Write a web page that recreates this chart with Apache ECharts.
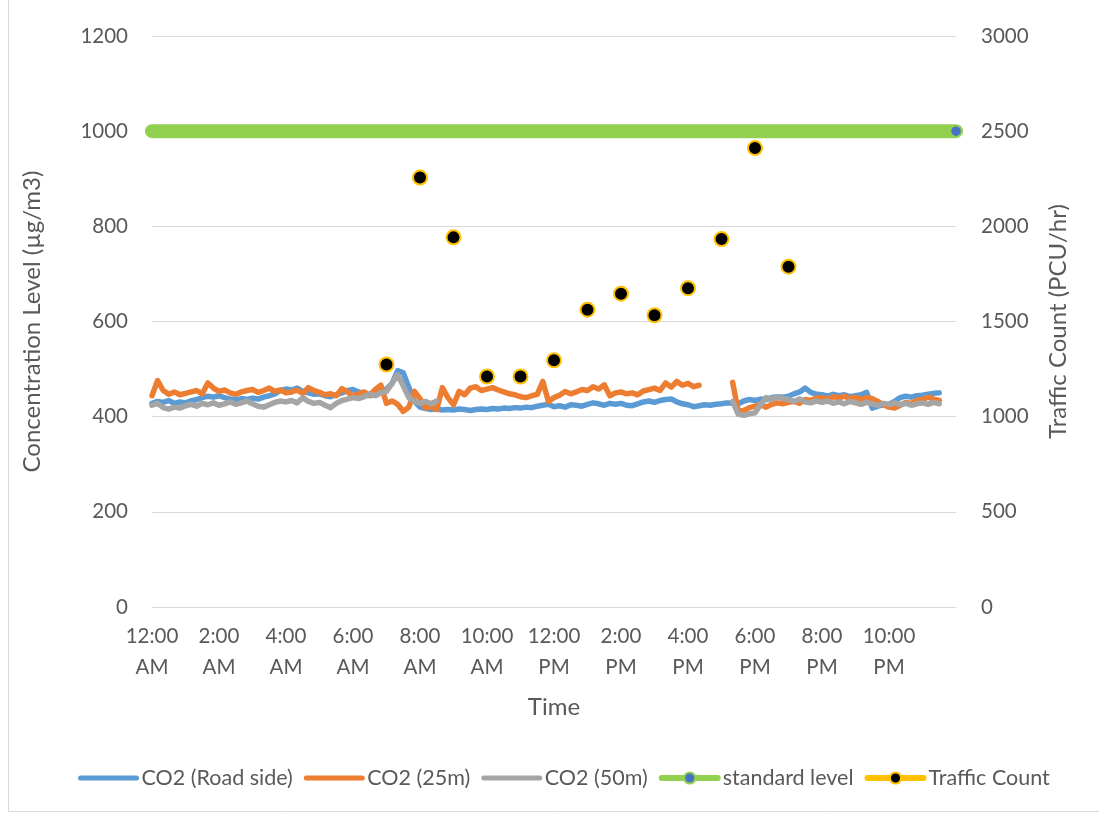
<!DOCTYPE html>
<html>
<head>
<meta charset="utf-8">
<script src="https://cdn.jsdelivr.net/npm/echarts@6/dist/echarts.min.js"></script>
<style>
  html, body { margin: 0; padding: 0; background: #ffffff; }
  #chart { width: 1099px; height: 814px; }
</style>
</head>
<body>
<div id="chart"></div>
<script>
// Readings are logged every 10 minutes starting at midnight (one row per hour below);
// null = logger offline.
const SLOT_HOURS = 1 / 6;

// CO2 at the road side (µg/m3)
const co2RoadSide = [
  428, 432, 430, 434, 428, 431,
  429, 433, 436, 440, 443, 441,
  444, 440, 437, 435, 438, 436,
  439, 437, 441, 444, 448, 455,
  458, 456, 460, 453, 450, 447,
  448, 444, 442, 446, 450, 455,
  457, 452, 448, 444, 447, 452,
  458, 470, 497, 492, 462, 432,
  420, 417, 415, 416, 414, 415,
  414, 416, 415, 413, 415, 416,
  415, 417, 416, 418, 417, 419,
  418, 420, 419, 422, 424, 426,
  421, 423, 420, 425, 424, 422,
  426, 429, 427, 424, 428, 426,
  428, 424, 423, 427, 431, 433,
  430, 434, 436, 437, 431, 427,
  425, 421, 423, 425, 424, 426,
  427, 429, 428, 427, 433, 436,
  434, 437, 436, 440, 442, 441,
  443, 448, 452, 460, 451, 447,
  446, 443, 447, 444, 446, 442,
  444, 446, 451, 418, 422, 425,
  426, 432, 440, 443, 441, 444,
  445, 447, 449, 450
];

// CO2 25 m from the road (µg/m3)
const co2At25m = [
  444, 476, 455, 447, 452, 446,
  449, 452, 455, 448, 471, 460,
  453, 456, 450, 447, 452, 455,
  457, 451, 455, 460, 453, 456,
  450, 452, 456, 449, 461, 455,
  451, 446, 448, 444, 459, 452,
  443, 448, 452, 445, 457, 466,
  428, 433, 426, 411, 420, 453,
  438, 418, 421, 415, 461, 440,
  425, 453, 446, 460, 463, 455,
  458, 461, 456, 452, 448, 446,
  442, 440, 444, 447, 474, 432,
  440, 445, 453, 448, 452, 457,
  455, 463, 458, 467, 444, 450,
  452, 448, 450, 446, 454, 457,
  460, 455, 471, 462, 474, 466,
  470, 463, 466, null, null, null,
  null, null, 472, 411, 413, 419,
  422, 425, 420, 426, 429, 427,
  430, 432, 428, 436, 434, 439,
  440, 436, 442, 439, 443, 438,
  441, 436, 440, 438, 432, 425,
  420, 418, 424, 430, 428, 434,
  436, 441, 437, 434
];

// CO2 50 m from the road (µg/m3)
const co2At50m = [
  424, 428, 419, 416, 420, 418,
  423, 426, 422, 428, 425, 429,
  424, 427, 431, 426, 429, 433,
  427, 422, 420, 425, 430, 433,
  431, 434, 429, 440, 432, 428,
  430, 424, 419, 428, 434, 437,
  440, 438, 442, 448, 444, 450,
  453, 470, 488, 465, 440, 432,
  428, 432, 427, 433, null, null,
  null, null, null, null, null, null,
  null, null, null, null, null, null,
  null, null, null, null, null, null,
  null, null, null, null, null, null,
  null, null, null, null, null, null,
  null, null, null, null, null, null,
  null, null, null, null, null, null,
  null, null, null, null, null, null,
  null, null, 432, 405, 403, 406,
  408, 425, 440, 436, 442, 438,
  436, 432, 437, 431, 429, 433,
  430, 433, 428, 431, 427, 432,
  429, 426, 430, 427, 424, 428,
  426, 429, 425, 428, 424, 427,
  429, 426, 430, 427
];

// Limit line (µg/m3), drawn across the whole day
const standardLevel = 1000;
const dayStartHour = 0;
const dayEndHour = 24;

// Hourly traffic counts (PCU/hr)
const trafficHours = [7, 8, 9, 10, 11, 12, 13, 14, 15, 16, 17, 18, 19];
const trafficCount = [1274, 2256, 1942, 1211, 1211, 1296, 1562, 1646, 1533, 1675, 1933, 2411, 1788];

const seriesNames = ['CO2 (Road side)', 'CO2 (25m)', 'CO2 (50m)', 'standard level', 'Traffic Count'];

const C_BLUE = '#5B9BD5', C_ORANGE = '#ED7D31', C_GRAY = '#A5A5A5';
const C_GREEN = '#92D050', C_MARK = '#4472C4', C_GOLD = '#FFC000';
const TXT = '#595959', GRID = '#D9D9D9';
const FONT = 'Lato, "Open Sans", sans-serif';
const FS_TICK = 20.5, FS_LEGEND = 21.5, FS_TITLE = 24;

function toPairs(values) {
  return values.map((v, i) => [i * SLOT_HOURS, v]);
}

function clockLabel(h) {
  const hh = h % 24;
  const h12 = hh % 12 === 0 ? 12 : hh % 12;
  return h12 + ':00\n' + (hh < 12 ? 'AM' : 'PM');
}

const plainNumber = v => String(v);

const chart = echarts.init(document.getElementById('chart'), null, { renderer: 'canvas' });

const co2Line = (name, values, color) => ({
  name, type: 'line', data: toPairs(values),
  symbol: 'none', showSymbol: false, connectNulls: false,
  lineStyle: { width: 5.5, color, join: 'round', cap: 'round' },
  itemStyle: { color }
});

chart.setOption({
  animation: false,
  textStyle: { fontFamily: FONT },
  graphic: [{
    type: 'rect', silent: true,
    shape: { x: 8.5, y: -2, width: 1200, height: 813.5 },
    style: { fill: null, stroke: GRID, lineWidth: 1 }
  }],
  grid: { left: 152, right: 143, top: 36, bottom: 207, containLabel: false, outerBoundsMode: 'none' },
  legend: {
    top: 762, left: 73,
    itemWidth: 56, itemHeight: 14, itemGap: 11,
    textStyle: { color: TXT, fontSize: FS_LEGEND, fontFamily: FONT },
    data: [
      { name: seriesNames[0], itemStyle: { opacity: 0 }, lineStyle: { width: 5, color: C_BLUE, cap: 'round' } },
      { name: seriesNames[1], itemStyle: { opacity: 0 }, lineStyle: { width: 5, color: C_ORANGE, cap: 'round' } },
      { name: seriesNames[2], itemStyle: { opacity: 0 }, lineStyle: { width: 5, color: C_GRAY, cap: 'round' } },
      { name: seriesNames[3], itemStyle: { color: C_MARK, borderColor: C_GREEN, borderWidth: 2, opacity: 1 }, lineStyle: { width: 6, color: C_GREEN, cap: 'round', opacity: 1 } },
      { name: seriesNames[4], itemStyle: { color: '#000000', borderColor: C_GOLD, borderWidth: 2, opacity: 1 }, lineStyle: { width: 6, color: C_GOLD, cap: 'round', opacity: 1 } }
    ]
  },
  xAxis: {
    type: 'value', min: dayStartHour, max: dayEndHour, interval: 2,
    name: 'Time', nameLocation: 'middle', nameGap: 88,
    nameTextStyle: { color: TXT, fontSize: FS_TITLE, fontFamily: FONT },
    axisLine: { show: true, lineStyle: { color: GRID, width: 1 } },
    axisTick: { show: false },
    splitLine: { show: false },
    axisLabel: {
      color: TXT, fontSize: FS_TICK, fontFamily: FONT, lineHeight: 31, margin: 14,
      showMaxLabel: false, formatter: clockLabel
    }
  },
  yAxis: [{
    type: 'value', min: 0, max: 1200, interval: 200,
    name: 'Concentration Level (µg/m3)', nameLocation: 'middle', nameRotate: 90, nameGap: 108,
    nameTextStyle: { color: TXT, fontSize: FS_TITLE, fontFamily: FONT },
    axisLine: { show: false }, axisTick: { show: false },
    splitLine: { lineStyle: { color: GRID, width: 1 } },
    axisLabel: { color: TXT, fontSize: FS_TICK, fontFamily: FONT, margin: 24, formatter: plainNumber }
  }, {
    type: 'value', min: 0, max: 3000, interval: 500, position: 'right',
    name: 'Traffic Count (PCU/hr)', nameLocation: 'middle', nameRotate: 90, nameGap: 90,
    nameTextStyle: { color: TXT, fontSize: FS_TITLE, fontFamily: FONT },
    axisLine: { show: false }, axisTick: { show: false },
    splitLine: { show: false },
    axisLabel: { color: TXT, fontSize: FS_TICK, fontFamily: FONT, margin: 25, formatter: plainNumber }
  }],
  series: [
    co2Line(seriesNames[0], co2RoadSide, C_BLUE),
    co2Line(seriesNames[1], co2At25m, C_ORANGE),
    co2Line(seriesNames[2], co2At50m, C_GRAY),
    {
      name: seriesNames[3], type: 'line', clip: false,
      data: [{ value: [dayStartHour, standardLevel], symbol: 'none' }, { value: [dayEndHour, standardLevel] }],
      symbol: 'circle', symbolSize: 11, showSymbol: true,
      lineStyle: { width: 14, color: C_GREEN, cap: 'round' },
      itemStyle: { color: C_MARK, borderColor: C_GREEN, borderWidth: 1.5 }
    },
    {
      name: seriesNames[4], type: 'line', yAxisIndex: 1, z: 5,
      data: trafficHours.map((h, i) => [h, trafficCount[i]]),
      symbol: 'circle', symbolSize: 14, showSymbol: true,
      lineStyle: { width: 0, opacity: 0, color: C_GOLD },
      itemStyle: { color: '#000000', borderColor: C_GOLD, borderWidth: 2 }
    }
  ]
});
</script>
</body>
</html>
